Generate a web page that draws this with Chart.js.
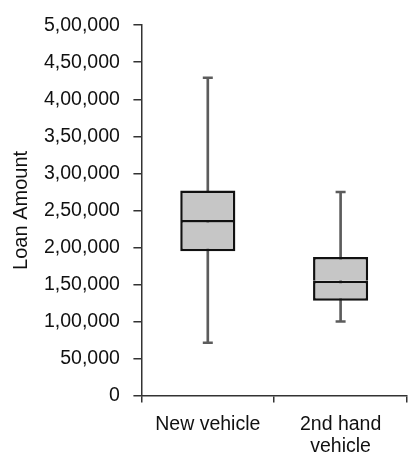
<!DOCTYPE html>
<html>
<head>
<meta charset="utf-8">
<script src="https://cdn.jsdelivr.net/npm/chart.js@4.4.1/dist/chart.umd.min.js"></script>
<style>
    html, body { margin: 0; padding: 0; background: #fff; overflow: hidden; }
    #wrap { width: 408px; height: 457px; position: relative; }
</style>
</head>
<body>
<div id="wrap"><canvas id="boxChart"></canvas></div>
<script>
const categories = ["New vehicle", ["2nd hand", "vehicle"]];
const minValues = [71500, 100000];
const q1Values = [195000, 128000];
const medianValues = [237000, 155000];
const q3Values = [277000, 187000];
const maxValues = [429000, 275000];
const yTicks = [0, 50000, 100000, 150000, 200000, 250000, 300000, 350000, 400000, 450000, 500000];

// indian digit grouping: 5,00,000
function formatIndian(value) {
    const s = String(Math.round(value));
    if (s.length <= 3) return s;
    const last3 = s.slice(-3);
    const rest = s.slice(0, -3).replace(/\B(?=(\d{2})+(?!\d))/g, ",");
    return rest + "," + last3;
}

// chart.js counts tick padding twice when sizing an axis, take one back
function dropExtraPadding(scale) {
    if (scale.isHorizontal()) {
        scale.height -= scale.options.ticks.padding;
    } else {
        scale.width -= scale.options.ticks.padding;
    }
}

const boxFill = "#c6c6c6";
const boxLine = "#111111";
const whiskerColor = "#5c5c5c";
const textFont = { family: "Liberation Sans", size: 19.5 };

const lowerHalf = q1Values.map((q1, i) => [q1, medianValues[i]]);
const upperHalf = medianValues.map((m, i) => [m, q3Values[i]]);
const whiskers = minValues.map((mn, i) => [mn, maxValues[i]]);

new Chart(document.getElementById("boxChart"), {
    type: "bar",
    data: {
        labels: categories,
        datasets: [
            {
                label: "lower box",
                data: lowerHalf,
                backgroundColor: boxFill,
                borderColor: boxLine,
                borderWidth: 2.5,
                borderSkipped: false,
                grouped: false,
                categoryPercentage: 1,
                barPercentage: 0.415,
                order: 1,
            },
            {
                label: "upper box",
                data: upperHalf,
                backgroundColor: boxFill,
                borderColor: boxLine,
                borderWidth: 2.5,
                borderSkipped: "bottom",
                grouped: false,
                categoryPercentage: 1,
                barPercentage: 0.415,
                order: 2,
            },
            {
                label: "whisker",
                data: whiskers,
                backgroundColor: whiskerColor,
                borderWidth: 0,
                grouped: false,
                barThickness: 2,
                order: 5,
            },
            {
                type: "line",
                label: "max cap",
                data: maxValues,
                showLine: false,
                pointStyle: "line",
                pointRadius: 5,
                pointBorderWidth: 2.5,
                pointBorderColor: whiskerColor,
                order: 3,
            },
            {
                type: "line",
                label: "min cap",
                data: minValues,
                showLine: false,
                pointStyle: "line",
                pointRadius: 5,
                pointBorderWidth: 2.5,
                pointBorderColor: whiskerColor,
                order: 4,
            },
        ],
    },
    options: {
        responsive: true,
        maintainAspectRatio: false,
        animation: false,
        layout: {
            autoPadding: false,
            padding: { left: 5, top: 22, right: 1, bottom: 0 },
        },
        plugins: {
            legend: { display: false },
            tooltip: { enabled: false },
        },
        scales: {
            x: {
                offset: true,
                afterFit: dropExtraPadding,
                grid: {
                    offset: true,
                    drawOnChartArea: false,
                    tickLength: 7,
                    color: "#333",
                    lineWidth: 1.5,
                },
                border: { color: "#333", width: 1.5 },
                ticks: {
                    color: "#111",
                    padding: 11.5,
                    maxRotation: 0,
                    font: { ...textFont, lineHeight: 1.1 },
                },
            },
            y: {
                min: 0,
                max: 500000,
                afterBuildTicks: (scale) => {
                    scale.ticks = yTicks.map((v) => ({ value: v }));
                },
                afterFit: dropExtraPadding,
                grid: {
                    drawOnChartArea: false,
                    tickLength: 8,
                    color: "#333",
                    lineWidth: 1.5,
                },
                border: { color: "#333", width: 1.5 },
                ticks: {
                    color: "#111",
                    padding: 13.5,
                    font: textFont,
                    callback: (value) => formatIndian(value),
                },
                title: {
                    display: true,
                    text: "Loan Amount",
                    color: "#111",
                    font: { family: "Liberation Sans", size: 20 },
                    padding: { top: 4, bottom: 11 },
                },
            },
        },
    },
});
</script>
</body>
</html>
